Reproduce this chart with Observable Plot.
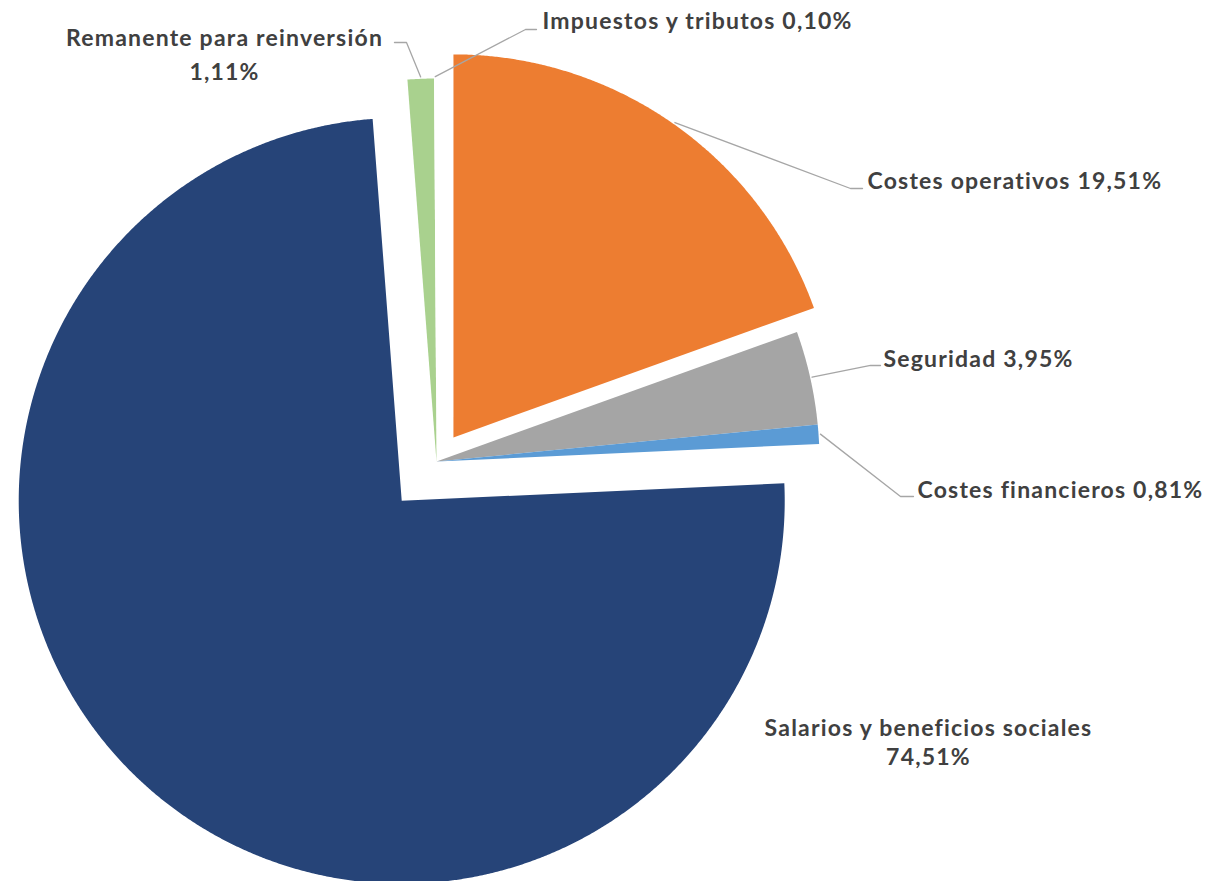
<!DOCTYPE html>
<html><head><meta charset="utf-8">
<script src="https://cdn.jsdelivr.net/npm/d3@7"></script>
<script src="https://cdn.jsdelivr.net/npm/@observablehq/plot@0.6"></script>
<style>html,body{margin:0;padding:0;background:#fff}#chart{width:1219px;height:881px;overflow:hidden}</style>
</head><body><div id="chart"></div>
<script>
// ---- data ----
const categories = ["Costes operativos", "Seguridad", "Costes financieros", "Salarios y beneficios sociales", "Remanente para reinversión", "Impuestos y tributos"];
const values = [19.51, 3.95, 0.81, 74.51, 1.11, 0.10];
const percentLabels = ["19,51%", "3,95%", "0,81%", "74,51%", "1,11%", "0,10%"];

// ---- style / layout ----
const sliceColors = ["#ED7D31", "#A5A5A5", "#5B9BD5", "#264478", "#A9D18E", "#FFFFFF"];
const explodeBy = [0.077, 0, 0, 0.137, 0, 0]; // fraction of radius
// label layout in radius units relative to the pie centre (y up)
const labelLayout = [
  {c: "Costes operativos", twoLines: false, lh: 1.2, anchor: "start", tx: 1.1253, ty: 0.7347, leader: [[1.081, 0.7128], [1.1123, 0.7128]]},
  {c: "Seguridad", twoLines: false, lh: 1.2, anchor: "start", tx: 1.1671, ty: 0.270, leader: [[1.1332, 0.2507], [1.1593, 0.2507]]},
  {c: "Costes financieros", twoLines: false, lh: 1.2, anchor: "start", tx: 1.2559, ty: -0.0721, leader: [[1.2115, -0.0914], [1.2454, -0.0914]]},
  {c: "Salarios y beneficios sociales", twoLines: true, lh: 1.26, anchor: "middle", tx: 1.2846, ty: -0.7313, leader: null},
  {c: "Remanente para reinversión", twoLines: true, lh: 1.48, anchor: "middle", tx: -0.5535, ty: 1.0687, leader: [[-0.0783, 1.094], [-0.1097, 1.094]]},
  {c: "Impuestos y tributos", twoLines: false, lh: 1.2, anchor: "start", tx: 0.2768, ty: 1.1525, leader: [[0.2324, 1.128], [0.2611, 1.128]]}
];
const W = 1219, H = 881, R = 383, CX = 436, CY = 461;

// ---- geometry from values ----
const total = d3.sum(values);
let acc = 0;
const slices = categories.map((c, i) => {
  const a0 = acc / total * 2 * Math.PI; acc += values[i];
  const a1 = acc / total * 2 * Math.PI;
  const mid = (a0 + a1) / 2;
  return {c, i, a0, a1, mid, ox: explodeBy[i] * Math.sin(mid), oy: explodeBy[i] * Math.cos(mid)};
});
const slicePts = [];
for (const s of slices) {
  slicePts.push({c: s.c, x: s.ox, y: s.oy});
  const n = Math.max(2, Math.ceil((s.a1 - s.a0) / (Math.PI / 720)));
  for (let k = 0; k <= n; k++) {
    const a = s.a0 + (s.a1 - s.a0) * k / n;
    slicePts.push({c: s.c, x: s.ox + Math.sin(a), y: s.oy + Math.cos(a)});
  }
  slicePts.push({c: s.c, x: s.ox, y: s.oy});
}
const leaderPts = [];
const textRows = [];
for (const L of labelLayout) {
  const s = slices.find(d => d.c === L.c);
  const i = categories.indexOf(L.c);
  if (L.leader) {
    leaderPts.push({c: L.c, x: s.ox + 1.005 * Math.sin(s.mid), y: s.oy + 1.005 * Math.cos(s.mid)});
    for (const p of L.leader) leaderPts.push({c: L.c, x: p[0], y: p[1]});
  }
  textRows.push({c: L.c, anchor: L.anchor, lh: L.lh, x: L.tx, y: L.ty, text: L.c + (L.twoLines ? "\n" : " ") + percentLabels[i]});
}

const textStyle = {fontFamily: "Lato, 'Open Sans', sans-serif", fontWeight: "bold", fontSize: 23, fill: "#404040", lineAnchor: "middle"};

const chart = Plot.plot({
  width: W, height: H, margin: 0,
  style: {background: "white", overflow: "hidden"},
  x: {domain: [-CX / R, (W - CX) / R], range: [0, W], axis: null},
  y: {domain: [(CY - H) / R, CY / R], range: [H, 0], axis: null},
  color: {domain: categories, range: sliceColors},
  marks: [
    Plot.line(slicePts, {x: "x", y: "y", z: "c", fill: "c", stroke: "none", curve: "linear"}),
    Plot.line(leaderPts, {x: "x", y: "y", z: "c", stroke: "#A6A6A6", strokeWidth: 1.3, curve: "linear"}),
    ...textRows.map(r => Plot.text([r], {x: "x", y: "y", text: "text", textAnchor: r.anchor, lineHeight: r.lh, ...textStyle}))
  ]
});
chart.querySelectorAll("text").forEach(t => t.style.letterSpacing = "1.2px");
document.getElementById("chart").append(chart);
</script>
</body></html>
